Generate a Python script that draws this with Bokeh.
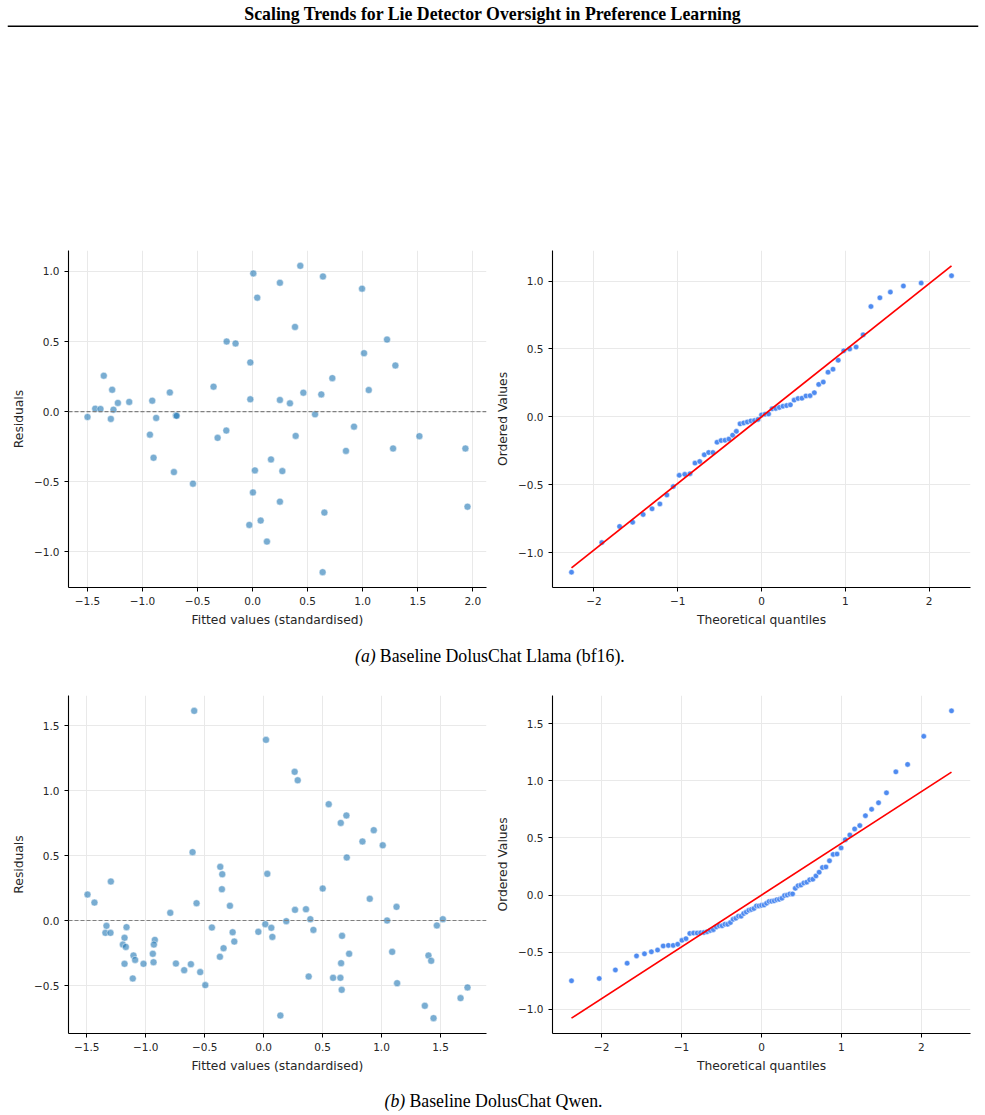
import numpy as np
from statistics import NormalDist
from bokeh.plotting import figure
from bokeh.layouts import column, row
from bokeh.models import Range1d, FixedTicker, CustomJSTickFormatter, Span, Label
from bokeh.embed import file_html
from bokeh.resources import INLINE

# ---------------- data ----------------
TITLE = "Scaling Trends for Lie Detector Oversight in Preference Learning"
CAPTION_A = ("(a)", "Baseline DolusChat Llama (bf16).")
CAPTION_B = ("(b)", "Baseline DolusChat Qwen.")

RES_XLABEL = "Fitted values (standardised)"
RES_YLABEL = "Residuals"
QQ_XLABEL = "Theoretical quantiles"
QQ_YLABEL = "Ordered Values"

LLAMA_FITTED = [-1.500, -1.430, -1.382, -1.352, -1.276, -1.264, -1.288, -1.224, -1.121,
                -0.912, -0.933, -0.900, -0.876, -0.752, -0.697, -0.690, -0.715, -0.542,
                -0.355, -0.318, -0.239, -0.236, -0.155, -0.021, -0.021, 0.006, 0.042,
                0.021, 0.003, -0.030, 0.073, 0.130, 0.167, 0.248, 0.248, 0.270, 0.248,
                0.339, 0.385, 0.391, 0.433, 0.461, 0.567, 0.624, 0.639, 0.652, 0.636,
                0.724, 0.848, 0.921, 0.994, 1.012, 1.055, 1.221, 1.276, 1.297, 1.515,
                1.933, 1.952]
LLAMA_RESID = [-0.038, 0.021, 0.019, 0.256, 0.156, 0.014, -0.052, 0.062, 0.069,
               0.078, -0.164, -0.329, -0.045, 0.137, -0.028, -0.030, -0.431, -0.514,
               0.178, -0.187, -0.135, 0.500, 0.486, 0.351, 0.088, 0.986, 0.813,
               -0.419, -0.576, -0.808, -0.777, -0.927, -0.341, 0.919, 0.083, -0.424, -0.642,
               0.059, 0.604, -0.173, 1.040, 0.135, -0.019, 0.123, 0.964, -0.720, -1.145,
               0.239, -0.280, -0.107, 0.877, 0.417, 0.154, 0.514, -0.263, 0.329, -0.175,
               -0.263, -0.678]

QWEN_FITTED = [-1.494, -1.435, -1.296, -1.333, -1.342, -1.299, -1.163, -1.180, -1.194,
               -1.169, -1.180, -1.104, -1.090, -1.110, -1.019, -0.923, -0.931, -0.940,
               -0.934, -0.792, -0.744, -0.674, -0.617, -0.538, -0.495, -0.589, -0.603,
               -0.569, -0.439, -0.368, -0.351, -0.354, -0.371, -0.340, -0.286, -0.263,
               -0.249, -0.045, 0.020, 0.031, 0.014, 0.065, 0.074, 0.142, 0.192, 0.263,
               0.289, 0.266, 0.359, 0.396, 0.422, 0.382, 0.501, 0.552, 0.589, 0.654,
               0.702, 0.705, 0.665, 0.657, 0.651, 0.662, 0.725, 0.838, 0.934, 0.900,
               1.010, 1.047, 1.090, 1.127, 1.132, 1.367, 1.398, 1.421, 1.441, 1.469,
               1.520, 1.670, 1.729]
QWEN_RESID = [0.200, 0.138, 0.300, -0.041, -0.095, -0.095, -0.051, -0.133, -0.185,
              -0.203, -0.333, -0.269, -0.303, -0.446, -0.333, -0.149, -0.185, -0.256,
              -0.321, 0.059, -0.331, -0.382, -0.336, -0.397, -0.497, 1.613, 0.526,
              0.133, -0.054, 0.413, 0.356, 0.241, -0.279, -0.213, 0.113, -0.090,
              -0.162, -0.087, 1.390, 0.359, -0.028, -0.056, -0.126, -0.731, -0.005, 1.144,
              1.079, 0.082, 0.087, 0.010, -0.072, -0.431, 0.246, 0.895, -0.441, 0.751,
              0.808, 0.485, -0.118, -0.328, -0.441, -0.533, -0.256, 0.608, 0.695, 0.167,
              0.579, 0.000, -0.241, 0.105, -0.482, -0.656, -0.269, -0.310, -0.751, -0.038,
              0.010, -0.597, -0.515]

LLAMA_RES_XTICKS = [-1.5, -1.0, -0.5, 0.0, 0.5, 1.0, 1.5, 2.0]
LLAMA_RES_XLABELS = ["\u22121.5", "\u22121.0", "\u22120.5", "0.0", "0.5", "1.0", "1.5", "2.0"]
LLAMA_RES_YTICKS = [-1.0, -0.5, 0.0, 0.5, 1.0]
LLAMA_RES_YLABELS = ["\u22121.0", "\u22120.5", "0.0", "0.5", "1.0"]
LLAMA_QQ_XTICKS = [-2, -1, 0, 1, 2]
LLAMA_QQ_XLABELS = ["\u22122", "\u22121", "0", "1", "2"]
LLAMA_QQ_YTICKS = [-1.0, -0.5, 0.0, 0.5, 1.0]
LLAMA_QQ_YLABELS = ["\u22121.0", "\u22120.5", "0.0", "0.5", "1.0"]

QWEN_RES_XTICKS = [-1.5, -1.0, -0.5, 0.0, 0.5, 1.0, 1.5]
QWEN_RES_XLABELS = ["\u22121.5", "\u22121.0", "\u22120.5", "0.0", "0.5", "1.0", "1.5"]
QWEN_RES_YTICKS = [-0.5, 0.0, 0.5, 1.0, 1.5]
QWEN_RES_YLABELS = ["\u22120.5", "0.0", "0.5", "1.0", "1.5"]
QWEN_QQ_XTICKS = [-2, -1, 0, 1, 2]
QWEN_QQ_XLABELS = ["\u22122", "\u22121", "0", "1", "2"]
QWEN_QQ_YTICKS = [-1.0, -0.5, 0.0, 0.5, 1.0, 1.5]
QWEN_QQ_YLABELS = ["\u22121.0", "\u22120.5", "0.0", "0.5", "1.0", "1.5"]

# ---------------- style ----------------
TICK_FONT = "DejaVu Sans"
SERIF = "Liberation Serif"
TEXT_COLOR = "#262626"
GRID_COLOR = "#e9e9e9"
SCATTER_COLOR = "#1f77b4"
QQ_COLOR = "#4f8bf0"
LINE_COLOR = "#ff0000"


def padded(lo, hi, frac=0.05):
    span = hi - lo
    return Range1d(lo - frac * span, hi + frac * span)


def formatter(tvals, tlabels):
    return CustomJSTickFormatter(args=dict(tvals=list(tvals), tlabels=list(tlabels)), code="""
        for (let i = 0; i < tvals.length; i++) {
            if (Math.abs(tvals[i] - tick) < 1e-9) { return tlabels[i]; }
        }
        return String(tick);
    """)


def make_fig(width, height, bl, br, bt, bb, xr, yr):
    p = figure(width=width, height=height, x_range=xr, y_range=yr,
               output_backend="svg", toolbar_location=None,
               min_border_left=bl, min_border_right=br,
               min_border_top=bt, min_border_bottom=bb)
    p.outline_line_color = None
    p.background_fill_color = "white"
    p.border_fill_color = "white"
    return p


def style_axes(p, xt, xl, yt, yl, xlabel, ylabel):
    p.xaxis.ticker = FixedTicker(ticks=xt)
    p.yaxis.ticker = FixedTicker(ticks=yt)
    p.xaxis.formatter = formatter(xt, xl)
    p.yaxis.formatter = formatter(yt, yl)
    p.xaxis.axis_label = xlabel
    p.yaxis.axis_label = ylabel
    for ax in (p.xaxis[0], p.yaxis[0]):
        ax.axis_line_color = "black"
        ax.axis_line_width = 1.1
        ax.major_tick_line_color = "black"
        ax.major_tick_line_width = 1
        ax.major_tick_out = 4
        ax.major_tick_in = 0
        ax.minor_tick_line_color = None
        ax.major_label_text_font = TICK_FONT
        ax.major_label_text_font_size = "10.5px"
        ax.major_label_text_color = TEXT_COLOR
        ax.major_label_standoff = 5
        ax.axis_label_text_font = TICK_FONT
        ax.axis_label_text_font_size = "12.3px"
        ax.axis_label_text_font_style = "normal"
        ax.axis_label_text_color = TEXT_COLOR
        ax.axis_label_standoff = 5
    p.xgrid.ticker = FixedTicker(ticks=xt)
    p.ygrid.ticker = FixedTicker(ticks=yt)
    p.grid.grid_line_color = GRID_COLOR
    p.grid.grid_line_width = 1


def residual_plot(fitted, resid, xt, xl, yt, yl, bt, bb):
    xr = padded(min(fitted), max(fitted))
    yr = padded(min(resid), max(resid))
    p = make_fig(490, 395, 68, 4, bt, bb, xr, yr)
    style_axes(p, xt, xl, yt, yl, RES_XLABEL, RES_YLABEL)
    p.scatter(fitted, resid, size=7, fill_color=SCATTER_COLOR, fill_alpha=0.6,
              line_color="white", line_width=0.6, line_alpha=0.8)
    p.add_layout(Span(location=0, dimension="width", line_color="#808080",
                      line_dash="4 2", line_width=1.2))
    return p


def qq_plot(resid, xt, xl, yt, yl, bt, bb):
    n = len(resid)
    osr = sorted(resid)
    mvals = [(i - 0.3175) / (n + 0.365) for i in range(1, n + 1)]
    mvals[-1] = 0.5 ** (1.0 / n)
    mvals[0] = 1.0 - mvals[-1]
    nd = NormalDist()
    osm = [nd.inv_cdf(v) for v in mvals]
    slope, intercept = np.polyfit(osm, osr, 1)
    lx = [osm[0], osm[-1]]
    ly = [float(slope * osm[0] + intercept), float(slope * osm[-1] + intercept)]
    xr = padded(min(osm), max(osm))
    yr = padded(min(osr + ly), max(osr + ly))
    p = make_fig(495, 395, 62, 15, bt, bb, xr, yr)
    style_axes(p, xt, xl, yt, yl, QQ_XLABEL, QQ_YLABEL)
    p.scatter(osm, osr, size=5.5, fill_color=QQ_COLOR, fill_alpha=1.0,
              line_color="white", line_width=0.5)
    p.line(lx, ly, line_color=LINE_COLOR, line_width=1.7)
    return p


def canvas(width, height, bl=0, br=0):
    p = figure(width=width, height=height, x_range=Range1d(bl, width - br),
               y_range=Range1d(height, 0), output_backend="svg", toolbar_location=None,
               min_border_left=bl, min_border_right=br, min_border_top=0, min_border_bottom=0)
    p.axis.visible = False
    p.grid.visible = False
    p.outline_line_color = None
    p.background_fill_color = "white"
    p.border_fill_color = "white"
    return p


def caption(height, italic, rest, split_left, split_right, baseline):
    c = canvas(985, height)
    c.add_layout(Label(x=split_left, y=baseline, text=italic, text_font=SERIF,
                       text_font_style="italic", text_font_size="17.8px",
                       text_align="right", text_baseline="alphabetic", text_color="black"))
    c.add_layout(Label(x=split_right, y=baseline, text=rest, text_font=SERIF,
                       text_font_size="17.8px", text_align="left",
                       text_baseline="alphabetic", text_color="black"))
    return c


header = canvas(985, 245, 7, 7)
header.add_layout(Label(x=492.5, y=13.0, text=TITLE, text_font=SERIF, text_font_style="bold",
                        text_font_size="17.8px", text_align="center",
                        text_baseline="alphabetic", text_color="black"))
header.add_layout(Span(location=25.8, dimension="width", line_color="black", line_width=1.6))

p1 = residual_plot(LLAMA_FITTED, LLAMA_RESID, LLAMA_RES_XTICKS, LLAMA_RES_XLABELS,
                   LLAMA_RES_YTICKS, LLAMA_RES_YLABELS, 5, 53)
p2 = qq_plot(LLAMA_RESID, LLAMA_QQ_XTICKS, LLAMA_QQ_XLABELS,
             LLAMA_QQ_YTICKS, LLAMA_QQ_YLABELS, 5, 53)
cap_a = caption(50, CAPTION_A[0], CAPTION_A[1], 373.5, 377.7, 15.0)
p3 = residual_plot(QWEN_FITTED, QWEN_RESID, QWEN_RES_XTICKS, QWEN_RES_XLABELS,
                   QWEN_RES_YTICKS, QWEN_RES_YLABELS, 5, 52)
p4 = qq_plot(QWEN_RESID, QWEN_QQ_XTICKS, QWEN_QQ_XLABELS,
             QWEN_QQ_YTICKS, QWEN_QQ_YLABELS, 5, 52)
cap_b = caption(30, CAPTION_B[0], CAPTION_B[1], 403.5, 407.7, 15.0)

layout = column(header, row(p1, p2), cap_a, row(p3, p4), cap_b)

with open("out.html", "w") as f:
    f.write(file_html(layout, INLINE))
